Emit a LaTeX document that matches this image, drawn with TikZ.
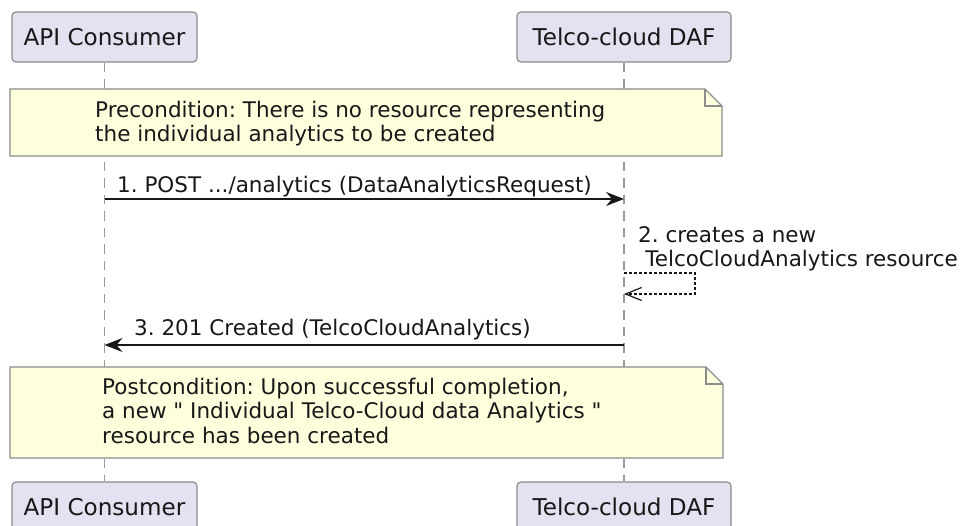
\documentclass[tikz,border=0pt]{standalone}
\usepackage{fontspec}
\setmainfont{DejaVu Sans}[Ligatures=TeXOff]
\usetikzlibrary{arrows.meta}
\definecolor{partfill}{HTML}{E2E2F0}
\definecolor{notefill}{HTML}{FEFFDD}
\definecolor{bordergray}{HTML}{8C8C8C}
\definecolor{ink}{HTML}{181818}
\definecolor{lifegray}{HTML}{9A9A9A}
\begin{document}
\frenchspacing
\begin{tikzpicture}[x=1pt,y=-1pt,
  participant/.style={draw=bordergray, line width=1.2pt, fill=partfill, rounded corners=4pt,
    minimum height=50pt, inner sep=0pt, text=ink, font=\fontsize{23.1}{27}\selectfont},
  lifeline/.style={draw=lifegray, line width=1.5pt, dash pattern=on 9.5pt off 7pt},
  notebox/.style={draw=bordergray, line width=1.2pt, fill=notefill, line join=miter},
  msgtext/.style={inner sep=0pt, text=ink, align=left, font=\fontsize{21.5}{24.5}\selectfont},
  msg/.style={draw=ink, line width=1.6pt, -{Stealth[length=18pt,width=14pt,inset=6pt]}},
  selfmsg/.style={draw=ink, line width=1.2pt, dash pattern=on 3pt off 2pt,
    -{Straight Barb[length=16pt,width=13pt,line width=1.2pt]}}
]
\useasboundingbox (0,0) rectangle (963,526);
\fill[white] (0,0) rectangle (963,526);

% participants
\node[participant, minimum width=185pt] (consTop) at (104.5,37) {API Consumer};
\node[participant, minimum width=214pt] (dafTop) at (624,37) {Telco-cloud DAF};
\node[participant, minimum width=185pt] (consBot) at (104.5,507) {API Consumer};
\node[participant, minimum width=214pt] (dafBot) at (624,507) {Telco-cloud DAF};

% lifelines
\draw[lifeline] (consTop.south) -- (consBot.north);
\draw[lifeline] (dafTop.south) -- (dafBot.north);

% precondition note
\draw[notebox] (10,89) -- (705,89) -- (722,106) -- (722,156) -- (10,156) -- cycle;
\draw[notebox, fill=none] (705,89) -- (705,106) -- (722,106);
\node[msgtext, anchor=north west] (pre) at (95,100.7)
  {Precondition: There is no resource representing\\the individual analytics to be created};

% message 1
\coordinate (m1a) at (consTop.south |- 0,199);
\coordinate (m1b) at (dafTop.south |- 0,199);
\draw[msg] (m1a) -- (m1b);
\node[msgtext, anchor=base west] (l1) at (117,193) {1. POST .../analytics (DataAnalyticsRequest)};

% self message 2
\node[msgtext, anchor=north west] (l2) at (638,226.3)
  {2. creates a new\\\hspace*{0.33em}TelcoCloudAnalytics resource};
\coordinate (s2a) at (dafTop.south |- 0,273);
\coordinate (s2b) at (695,273);
\coordinate (s2c) at (695,294);
\coordinate (s2d) at (dafTop.south |- 0,294);
\draw[selfmsg] (s2a) -- (s2b) -- (s2c) -- (s2d);

% message 3
\coordinate (m3a) at (dafTop.south |- 0,345);
\coordinate (m3b) at (consTop.south |- 0,345);
\draw[msg] (m3a) -- (m3b);
\node[msgtext, anchor=base west] (l3) at (134,335) {3. 201 Created (TelcoCloudAnalytics)};

% postcondition note
\draw[notebox] (10,367) -- (706,367) -- (723,384) -- (723,458) -- (10,458) -- cycle;
\draw[notebox, fill=none] (706,367) -- (706,384) -- (723,384);
\node[msgtext, anchor=north west] (post) at (102,377.7)
  {Postcondition: Upon successful completion,\\a new " Individual Telco-Cloud data Analytics "\\resource has been created};
\end{tikzpicture}
\end{document}
